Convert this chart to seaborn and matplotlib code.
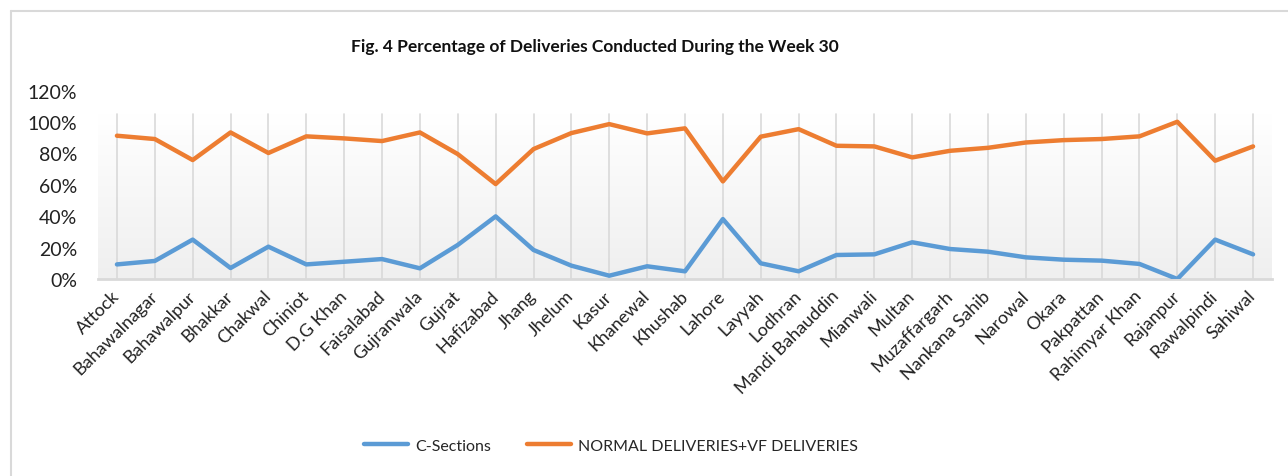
import matplotlib

matplotlib.use("Agg")
import matplotlib.pyplot as plt
import numpy as np
import pandas as pd
import seaborn as sns
from matplotlib.colors import LinearSegmentedColormap
from matplotlib.lines import Line2D

districts = [
    "Attock", "Bahawalnagar", "Bahawalpur", "Bhakkar", "Chakwal", "Chiniot",
    "D.G Khan", "Faisalabad", "Gujranwala", "Gujrat", "Hafizabad", "Jhang",
    "Jhelum", "Kasur", "Khanewal", "Khushab", "Lahore", "Layyah", "Lodhran",
    "Mandi Bahauddin", "Mianwali", "Multan", "Muzaffargarh", "Nankana Sahib",
    "Narowal", "Okara", "Pakpattan", "Rahimyar Khan", "Rajanpur", "Rawalpindi",
    "Sahiwal",
]
c_sections = [
    9.3, 11.5, 25.1, 7.0, 20.6, 9.3, 11.0, 12.7, 6.8, 21.7, 39.9, 18.5,
    8.5, 2.1, 8.1, 4.9, 38.2, 10.0, 4.9, 15.3, 15.7, 23.4, 19.1, 17.4,
    13.8, 12.3, 11.7, 9.6, 0.0, 25.1, 15.7,
]
normal_vf = [
    91.3, 89.2, 75.8, 93.4, 80.3, 90.9, 89.6, 87.9, 93.4, 79.6, 60.5, 82.8,
    93.0, 98.7, 92.8, 96.0, 62.2, 90.7, 95.5, 84.9, 84.5, 77.5, 81.7, 83.6,
    87.0, 88.5, 89.2, 90.9, 100.2, 75.4, 84.5,
]
series_names = ["C-Sections", "NORMAL DELIVERIES+VF DELIVERIES"]
series_colors = ["#5B9BD5", "#ED7D31"]

frame = pd.DataFrame({
    "district": districts * 2,
    "value": np.array(c_sections + normal_vf) / 100,
    "series": [series_names[0]] * len(districts) + [series_names[1]] * len(districts),
})

sns.set_theme(style="white")
plt.rcParams["font.family"] = ["Lato", "DejaVu Sans"]

fig = plt.figure(figsize=(12.88, 4.77), dpi=100)
ax = fig.add_axes([98 / 1288, 1 - 280 / 477, (1272 - 98) / 1288, (280 - 91.7) / 477])

# soft gradient background like the Excel plot area
grad = np.linspace(0, 1, 256).reshape(-1, 1)
cmap = LinearSegmentedColormap.from_list("bg", ["#efefef", "#ffffff"])
ax.imshow(grad, aspect="auto", cmap=cmap, origin="lower",
          extent=(-0.5, len(districts) - 0.5, 0, 1.05), zorder=0)

for i in range(len(districts)):
    ax.axvline(i, ymin=0, ymax=1.05 / 1.2, color="#d9d9d9", lw=1.2, zorder=1)

sns.lineplot(data=frame, x="district", y="value", hue="series",
             palette=series_colors, linewidth=3.2, ax=ax, legend=False,
             sort=False, zorder=3)

ax.set_xlim(-0.5, len(districts) - 0.5)
ax.set_ylim(0, 1.2)
ax.set_yticks(np.arange(0, 1.21, 0.2))
ax.set_yticklabels([f"{int(round(v * 100))}%" for v in np.arange(0, 1.21, 0.2)],
                   fontsize=14, color="#222222")
ax.set_xticks(range(len(districts)))
ax.set_xticklabels(districts, rotation=45, ha="right", va="center",
                   rotation_mode="anchor", fontsize=13, color="#222222")
ax.tick_params(axis="x", length=0, pad=10)
ax.tick_params(axis="y", length=0, pad=15)
ax.set_xlabel("")
ax.set_ylabel("")
for side in ["top", "right", "left"]:
    ax.spines[side].set_visible(False)
ax.spines["bottom"].set_color("#d9d9d9")
ax.spines["bottom"].set_linewidth(2)
ax.spines["bottom"].set_zorder(2)
ax.set_facecolor("white")

fig.text(595 / 1288, 1 - 46.7 / 477,
         "Fig. 4 Percentage of Deliveries Conducted During the Week 30",
         ha="center", va="center", fontsize=12.5, fontweight="bold", color="#111111")

handles = [Line2D([0], [0], color=c, lw=3.2, solid_capstyle="round") for c in series_colors]
fig.legend(handles, series_names, loc="center", ncol=2, frameon=False,
           bbox_to_anchor=(611 / 1288, 1 - 446.7 / 477), fontsize=11.5,
           handlelength=2.8, handletextpad=0.45, columnspacing=2.2)

# outer chart border (top and left edges visible)
fig.add_artist(Line2D([11 / 1288, 1], [1 - 12 / 477, 1 - 12 / 477],
                      color="#d9d9d9", lw=1.5, transform=fig.transFigure))
fig.add_artist(Line2D([11 / 1288, 11 / 1288], [0, 1 - 12 / 477],
                      color="#d9d9d9", lw=1.5, transform=fig.transFigure))

fig.savefig("out.png", dpi=100)
